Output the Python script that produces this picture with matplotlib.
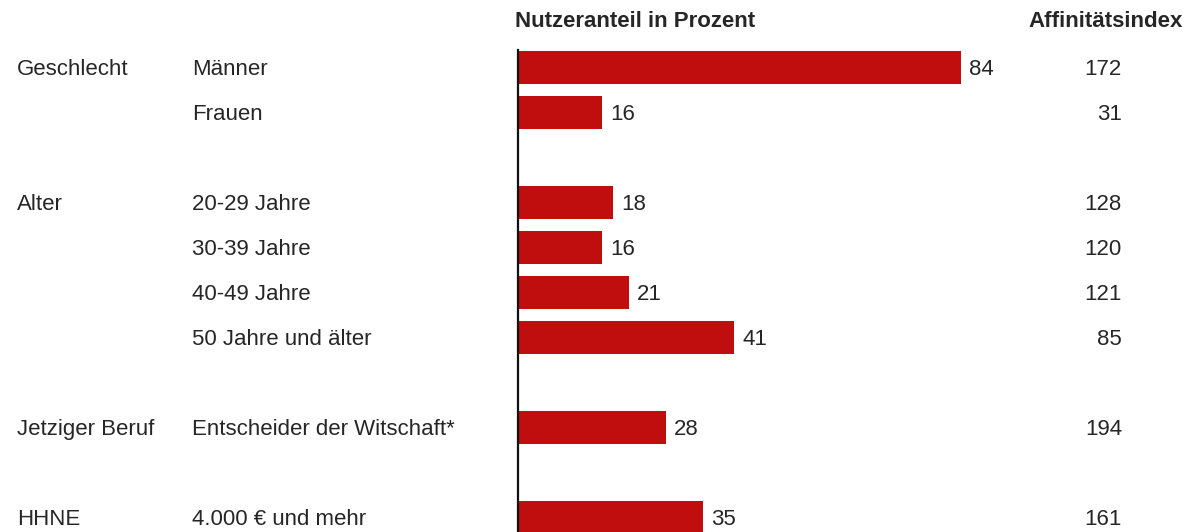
import matplotlib.pyplot as plt
from matplotlib import transforms

# Daten
groups = ["Geschlecht", "Alter", "Jetziger Beruf", "HHNE"]
group_sizes = [2, 4, 1, 1]
categories = ["Männer", "Frauen", "20-29 Jahre", "30-39 Jahre", "40-49 Jahre",
              "50 Jahre und älter", "Entscheider der Witschaft*", "4.000 € und mehr"]
shares = [84, 16, 18, 16, 21, 41, 28, 35]
affinity = [172, 31, 128, 120, 121, 85, 194, 161]

bar_color = "#C00D0E"
text_color = "#262626"
fs = 16
dy = -5.3  # Grundlinie unter Zeilenmitte (pt)

plt.rcParams['font.family'] = ['Liberation Sans', 'DejaVu Sans']

# Zeilenpositionen: Leerzeile zwischen den Gruppen
rows = []
group_rows = []
r = 0
for size in group_sizes:
    group_rows.append(r)
    for i in range(size):
        rows.append(r)
        r += 1
    r += 1

W, H = 1187, 532
fig = plt.figure(figsize=(W / 100, H / 100), dpi=100)

# Achse: x=0 bei Pixel 518, 84 bei Pixel 961
x0 = 518
unit = (961 - 518) / 84
ax_w = unit * 100
ax = fig.add_axes([x0 / W, 0, ax_w / W, (H - 50) / H])
ax.barh(rows, shares, height=0.73, color=bar_color)
ax.set_xlim(0, 100)
ax.set_ylim(10 + 14.5 / 45, -17.5 / 45)

for s in ["top", "right", "bottom"]:
    ax.spines[s].set_visible(False)
ax.spines["left"].set_linewidth(1.6)
ax.spines["left"].set_color("#111111")
ax.set_xticks([])
ax.set_yticks([])


def label(x, y, s, ha="left", xycoords="data", dx=0, **kw):
    ax.annotate(s, (x, y), xycoords=xycoords, xytext=(dx, dy),
                textcoords="offset points", va="baseline", ha=ha,
                fontsize=fs, color=text_color, annotation_clip=False, **kw)


for y, v in zip(rows, shares):
    label(v, y, str(v), dx=6)

tr = transforms.blended_transform_factory(fig.transFigure, ax.transData)
for y, g in zip(group_rows, groups):
    label(17 / W, y, g, xycoords=tr)
for y, c, a in zip(rows, categories, affinity):
    label(192 / W, y, c, xycoords=tr)
    label(1122 / W, y, str(a), ha="right", xycoords=tr)

fig.text(515 / W, 1 - 27 / H, "Nutzeranteil in Prozent", va="baseline", ha="left",
         fontsize=fs, fontweight="bold", color=text_color)
fig.text(1183 / W, 1 - 27 / H, "Affinitätsindex", va="baseline", ha="right",
         fontsize=fs, fontweight="bold", color=text_color)

fig.savefig("out.png", dpi=100, facecolor="white")
